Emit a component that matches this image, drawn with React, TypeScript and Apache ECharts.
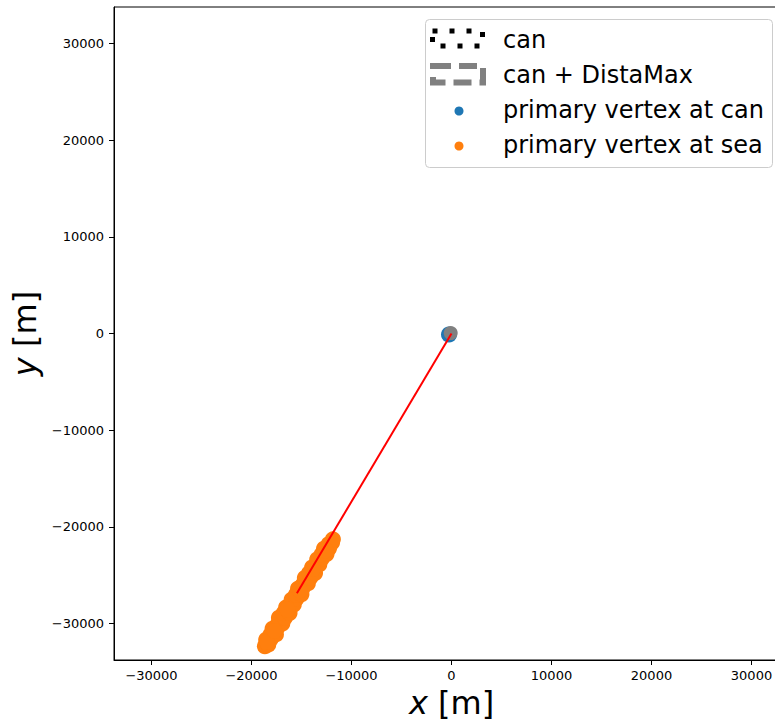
import React, { useEffect, useRef } from "react";
import * as echarts from "echarts";

const xTicks = [-30000, -20000, -10000, 0, 10000, 20000, 30000];
const yTicks = [-30000, -20000, -10000, 0, 10000, 20000, 30000];

// primary vertices at sea (orange)
const seaX = [
  -18660, -18320, -18533, -18065, -18108, -17554, -17896, -17427, -17385, -16917,
  -17258, -16662, -16790, -16194, -16536, -16110, -15770, -15983, -15515, -15558,
  -15004, -15346, -14877, -14835, -14367, -14666, -14112, -14240, -13644, -13943,
  -13560, -13220, -13433, -12965, -13008, -12497, -12753, -12242, -12285, -11945,
  -11860, -18450, -17700, -16400, -15150, -13850, -12600,
];
const seaY = [
  -32330, -32159, -31647, -31553, -31146, -31106, -30516, -30422, -30068, -29975,
  -29385, -29370, -28910, -28896, -28306, -28186, -28015, -27503, -27410, -27002,
  -26962, -26372, -26279, -25924, -25831, -25267, -25227, -24766, -24752, -24188,
  -24043, -23871, -23359, -23266, -22859, -22792, -22254, -22188, -21781, -21608,
  -21280, -31900, -30750, -28550, -26550, -24350, -22400,
];

// primary vertex at can (blue)
const canX = [-250];
const canY = [-100];

// can + DistaMax footprint (gray)
const distaX = [-80];
const distaY = [40];

// direction line (red)
const lineX = [0, -15460];
const lineY = [0, -26860];

const legendLabels = ["can", "can + DistaMax", "primary vertex at can", "primary vertex at sea"];

const FONT = "DejaVu Sans";

const fmt = (v: number) => (v < 0 ? "\u2212" + Math.abs(v) : String(v));

export default function App() {
  const ref = useRef<HTMLDivElement>(null);
  useEffect(() => {
    if (!ref.current) return;
    const chart = echarts.init(ref.current, null, { renderer: "svg" });
    const zip = (xs: number[], ys: number[]) => xs.map((x, i) => [x, ys[i]]);
    const legendTextX = 503;
    const rowsY = [40, 75, 110, 145];
    chart.setOption({
      animation: false,
      backgroundColor: "#fff",
      textStyle: { fontFamily: FONT },
      grid: {
        left: 114,
        top: 7,
        width: 675,
        height: 653,
        show: true,
        borderColor: "#000",
        borderWidth: 1,
        containLabel: false,
        outerBoundsMode: "none",
      },
      xAxis: {
        type: "value",
        min: -33750,
        max: 33750,
        name: "{i|x} [m]",
        nameLocation: "middle",
        nameGap: 24,
        nameTextStyle: {
          fontSize: 32,
          color: "#000",
          fontFamily: FONT,
          rich: { i: { fontSize: 32, fontStyle: "italic", fontFamily: FONT, color: "#000" } },
        },
        axisLine: { show: true, onZero: false, lineStyle: { color: "#000", width: 1 } },
        axisTick: { show: true, inside: false, length: 5, customValues: xTicks, lineStyle: { color: "#000" } },
        axisLabel: { customValues: xTicks, formatter: fmt, fontSize: 13, color: "#000", margin: 9, fontFamily: FONT },
        splitLine: { show: false },
      },
      yAxis: {
        type: "value",
        min: -33750,
        max: 33750,
        name: "{i|y} [m]",
        nameLocation: "middle",
        nameRotate: 90,
        nameGap: 68,
        nameTextStyle: {
          fontSize: 32,
          color: "#000",
          fontFamily: FONT,
          rich: { i: { fontSize: 32, fontStyle: "italic", fontFamily: FONT, color: "#000" } },
        },
        axisLine: { show: true, onZero: false, lineStyle: { color: "#000", width: 1 } },
        axisTick: { show: true, inside: false, length: 5, customValues: yTicks, lineStyle: { color: "#000" } },
        axisLabel: { customValues: yTicks, formatter: fmt, fontSize: 13, color: "#000", margin: 10, fontFamily: FONT },
        splitLine: { show: false },
      },
      series: [
        {
          name: legendLabels[3],
          type: "scatter",
          data: zip(seaX, seaY),
          symbolSize: 16,
          itemStyle: { color: "#ff7f0e", opacity: 1 },
          z: 2,
        },
        {
          name: legendLabels[2],
          type: "scatter",
          data: zip(canX, canY),
          symbolSize: 16,
          itemStyle: { color: "#1f77b4", opacity: 1 },
          z: 3,
        },
        {
          name: legendLabels[1],
          type: "scatter",
          data: zip(distaX, distaY),
          symbolSize: 14,
          itemStyle: { color: "#808080", opacity: 1 },
          z: 4,
        },
        {
          type: "line",
          data: zip(lineX, lineY),
          showSymbol: false,
          symbol: "none",
          lineStyle: { color: "#ff0000", width: 2 },
          z: 5,
        },
      ],
      graphic: [
        {
          type: "rect",
          shape: { x: 425.5, y: 19.5, width: 347, height: 148, r: 4 },
          style: { fill: "rgba(255,255,255,0.8)", stroke: "#cccccc", lineWidth: 1 },
          z: 100,
        },
        {
          type: "rect",
          shape: { x: 432.5, y: 31, width: 50, height: 15 },
          style: { fill: "none", stroke: "#000", lineWidth: 5, lineDash: [5, 12] },
          z: 101,
        },
        {
          type: "rect",
          shape: { x: 433, y: 66, width: 50, height: 16.5 },
          style: { fill: "none", stroke: "#808080", lineWidth: 6, lineDash: [18, 8] },
          z: 101,
        },
        {
          type: "circle",
          shape: { cx: 459, cy: 111, r: 4.5 },
          style: { fill: "#1f77b4" },
          z: 101,
        },
        {
          type: "circle",
          shape: { cx: 459, cy: 146, r: 4.5 },
          style: { fill: "#ff7f0e" },
          z: 101,
        },
        ...legendLabels.map((t, i) => ({
          type: "text",
          x: legendTextX,
          y: rowsY[i],
          style: {
            text: t,
            fill: "#000",
            fontSize: 24,
            fontFamily: FONT,
            verticalAlign: "middle",
            align: "left",
          },
          z: 101,
        })),
      ],
    });
    return () => chart.dispose();
  }, []);
  return (
    <div style={{ position: "absolute", left: 0, top: 0, width: 775, height: 722, overflow: "hidden", background: "#fff" }}>
      <div ref={ref} style={{ width: 800, height: 722 }} />
    </div>
  );
}
